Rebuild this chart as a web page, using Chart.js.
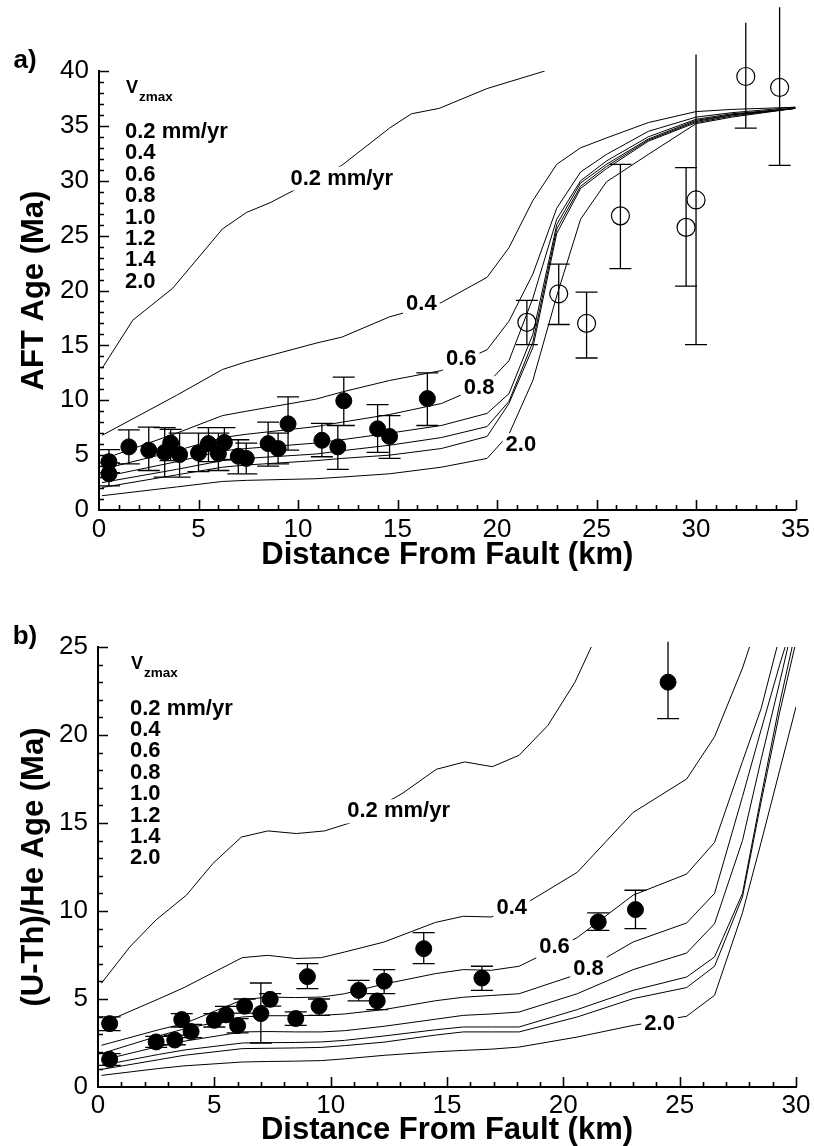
<!DOCTYPE html>
<html>
<head>
<meta charset="utf-8">
<script src="https://cdn.jsdelivr.net/npm/chart.js@4.4.0/dist/chart.umd.min.js"></script>
<style>
  html, body { margin: 0; padding: 0; background: #fff; }
  canvas { display: block; }
</style>
</head>
<body>
<canvas id="chartA" width="814" height="590"></canvas>
<canvas id="chartB" width="814" height="556"></canvas>
<script>
// ---------------------------------------------------------------
// DATA
// ---------------------------------------------------------------
const VELOCITIES = ['0.2', '0.4', '0.6', '0.8', '1.0', '1.2', '1.4', '2.0'];

// a) apatite fission-track ages vs distance
const aftDist02 = [0.15, 1.7, 3.7, 6.2, 7.4, 8.6, 12.2, 14.6, 15.7, 17.1, 19.5, 22.4];
const aftAge02  = [12.9, 17.3, 20.2, 25.6, 27.1, 28.0, 31.4, 34.8, 36.1, 36.6, 38.4, 40.0];

const aftDist  = [0.15, 3.9, 6.2, 7.4, 10.9, 12.2, 14.6, 17.2, 19.5, 20.6, 21.8, 23, 24.2, 25.5, 27.6, 30, 31.8, 35];
const aftAge04 = [6.8, 10.45, 12.8, 13.5, 15.2, 15.75, 17.6, 18.9, 21.2, 23.9, 28.2, 31.5, 33.0, 33.9, 35.3, 36.3, 36.5, 36.7];
const aftAge06 = [4.6, 7.0, 8.6, 9.0, 10.1, 10.75, 11.8, 12.7, 14.6, 17.2, 21.5, 27.5, 30.8, 32.4, 34.5, 35.8, 36.2, 36.7];
const aftAge08 = [3.7, 5.4, 6.6, 6.9, 7.6, 8.0, 8.7, 9.7, 11.5, 13.6, 19.3, 26.5, 30.0, 31.8, 34.0, 35.6, 36.1, 36.6];
const aftAge10 = [3.0, 4.4, 5.4, 5.6, 6.1, 6.4, 7.0, 7.7, 8.8, 10.6, 16.0, 26.0, 29.8, 31.5, 33.8, 35.5, 36.0, 36.6];
const aftAge12 = [2.5, 3.7, 4.5, 4.7, 5.1, 5.4, 5.9, 6.6, 7.6, 9.9, 15.3, 25.6, 29.5, 31.3, 33.7, 35.4, 36.0, 36.6];
const aftAge14 = [2.05, 3.2, 3.9, 4.1, 4.5, 4.7, 5.0, 5.6, 6.7, 9.7, 14.8, 25.2, 29.3, 31.1, 33.6, 35.3, 35.9, 36.6];
const aftAge20 = [1.3, 2.1, 2.6, 2.7, 2.85, 3.0, 3.3, 3.9, 4.7, 6.9, 11.8, 19.5, 26.5, 29.9, 32.4, 35.2, 35.8, 36.6];

// measured AFT ages (filled) with error limits
const aftObsDist = [0.5, 0.5, 1.5, 2.5, 3.3, 3.6, 4.05, 5.0, 5.5, 6.0, 6.3, 7.0, 7.4, 8.5, 9.0, 9.5, 11.2, 12.0, 12.3, 14.0, 14.6, 16.5];
const aftObsAge  = [4.4, 3.3, 5.75, 5.45, 5.25, 6.1, 5.05, 5.2, 6.05, 5.15, 6.15, 4.9, 4.7, 6.05, 5.6, 7.85, 6.35, 5.75, 9.95, 7.4, 6.7, 10.15];
const aftObsLow  = [3.4, 2.2, 4.2, 3.6, 3.0, 4.5, 3.0, 3.5, 4.4, 3.6, 4.6, 3.3, 3.3, 4.0, 4.2, 5.45, 4.85, 3.7, 7.7, 5.25, 4.7, 7.7];
const aftObsHigh = [5.5, 4.3, 7.3, 7.55, 7.5, 7.35, 7.0, 7.0, 7.5, 7.0, 7.5, 6.4, 6.1, 8.0, 7.0, 10.3, 7.9, 7.7, 12.1, 9.6, 8.6, 12.5];

// measured AFT ages (open)
const aftOpenDist = [21.5, 23.1, 24.5, 26.2, 29.5, 30.0, 32.5, 34.2];
const aftOpenAge  = [17.1, 19.7, 17.0, 26.8, 25.75, 28.25, 39.5, 38.5];
const aftOpenLow  = [15.06, 16.9, 13.85, 22.0, 20.4, 15.06, 34.8, 31.4];
const aftOpenHigh = [19.1, 22.4, 19.85, 31.5, 31.2, 41.5, 44.4, 45.8];

// b) (U-Th)/He ages vs distance
const heDist02 = [0.15, 1.36, 2.5, 3.8, 4.94, 6.16, 7.3, 8.53, 9.74, 10.96, 13.1, 14.54, 15.76, 16.95, 18.1, 19.34, 20.5, 21.2];
const heAge02  = [5.9, 7.95, 9.5, 10.9, 12.7, 14.2, 14.55, 14.4, 14.55, 15.06, 16.7, 18.05, 18.47, 18.2, 18.85, 20.55, 23.0, 25.0];

const heDist  = [0.15, 2.6, 3.7, 6.2, 7.3, 8.5, 9.6, 10.6, 12.3, 14.5, 15.7, 16.9, 18.1, 20.6, 23.0, 25.3, 26.5, 27.7, 28.5, 29.3, 30];
const heAge04 = [3.6, 5.0, 5.65, 7.35, 7.48, 7.3, 7.35, 7.67, 8.24, 9.35, 9.7, 9.66, 10.2, 12.2, 15.6, 17.5, 19.9, 23.8, 27.0, 30.0, 33.0];
const heAge06 = [2.37, 3.25, 3.6, 4.95, 5.11, 5.08, 5.11, 5.3, 5.85, 6.44, 6.67, 6.63, 6.86, 8.49, 10.9, 12.1, 13.9, 18.5, 21.5, 25.6, 29.0];
const heAge08 = [1.9, 2.9, 3.3, 3.98, 4.05, 4.05, 4.07, 4.15, 4.4, 4.9, 5.1, 5.2, 5.3, 6.4, 8.24, 9.32, 11.0, 16.5, 20.3, 24.0, 27.0];
const heAge10 = [1.52, 2.3, 2.6, 3.13, 3.15, 3.13, 3.13, 3.2, 3.45, 3.85, 4.07, 4.15, 4.26, 5.3, 6.67, 7.61, 9.28, 14.0, 18.6, 23.0, 27.0];
const heAge12 = [1.23, 1.85, 2.1, 2.5, 2.52, 2.53, 2.56, 2.65, 2.9, 3.25, 3.41, 3.41, 3.41, 4.4, 5.49, 6.25, 7.39, 11.0, 16.5, 21.8, 26.0];
const heAge14 = [1.0, 1.55, 1.8, 2.18, 2.2, 2.22, 2.25, 2.35, 2.55, 2.95, 3.13, 3.13, 3.13, 3.98, 5.02, 5.65, 6.86, 10.8, 16.2, 21.3, 25.3];
const heAge20 = [0.66, 1.05, 1.2, 1.42, 1.45, 1.47, 1.5, 1.6, 1.8, 2.0, 2.08, 2.15, 2.27, 2.84, 3.5, 4.02, 5.21, 9.9, 13.9, 18.0, 21.6];

const heObsDist = [0.5, 0.5, 2.5, 3.3, 3.6, 4.0, 5.0, 5.5, 6.0, 6.3, 7.0, 7.4, 8.5, 9.0, 9.5, 11.2, 12.0, 12.3, 14.0, 16.5, 21.5, 23.1, 24.5];
const heObsAge  = [3.6, 1.57, 2.56, 2.67, 3.83, 3.15, 3.79, 4.1, 3.49, 4.59, 4.17, 4.98, 3.89, 6.27, 4.59, 5.49, 4.89, 6.01, 7.86, 6.19, 9.38, 10.08, 23.0];
const heObsLow  = [3.2, 1.23, 2.25, 2.4, 3.41, 2.81, 3.41, 3.7, 3.07, 4.2, 2.5, 4.6, 3.5, 5.59, 4.07, 4.89, 4.4, 5.3, 7.01, 5.49, 8.9, 9.0, 20.93];
const heObsHigh = [3.98, 1.9, 2.88, 2.95, 4.17, 3.55, 4.17, 4.58, 3.89, 5.0, 5.91, 5.3, 4.27, 7.01, 5.0, 6.06, 5.3, 6.67, 8.77, 6.86, 9.89, 11.18, 25.3];

// ---------------------------------------------------------------
// STYLE
// ---------------------------------------------------------------
const FONT = "'Liberation Sans', Arial, Helvetica, sans-serif";
const CAP = 11;

function xy(xs, ys) {
    return xs.map((v, i) => ({ x: v, y: ys[i] }));
}

function curve(xs, ys) {
    return {
        data: xy(xs, ys),
        showLine: true,
        borderColor: '#000',
        borderWidth: 1,
        pointRadius: 0,
        pointHoverRadius: 0,
        tension: 0
    };
}

function dots(xs, ys, filled) {
    return {
        data: xy(xs, ys),
        showLine: false,
        pointRadius: filled ? 8 : 9,
        pointBackgroundColor: filled ? '#000' : 'rgba(0,0,0,0)',
        pointBorderColor: '#000',
        pointBorderWidth: filled ? 1 : 1.2,
        clip: false
    };
}

// error bars, inward ticks, curve labels and the V_zmax key
function makeOverlay(cfg) {
    return {
        id: 'overlay',
        beforeDatasetsDraw(chart) {
            const { ctx, scales: { x, y } } = chart;
            ctx.save();
            ctx.strokeStyle = '#000';
            ctx.lineWidth = 1.3;
            ctx.beginPath();
            cfg.errors.forEach(e => {
                e.x.forEach((xv, i) => {
                    const px = x.getPixelForValue(xv);
                    const top = y.getPixelForValue(e.hi[i]);
                    const bot = y.getPixelForValue(e.lo[i]);
                    ctx.moveTo(px, top);
                    ctx.lineTo(px, bot);
                    if (e.hi[i] <= y.max) {
                        ctx.moveTo(px - CAP, top);
                        ctx.lineTo(px + CAP, top);
                    }
                    ctx.moveTo(px - CAP, bot);
                    ctx.lineTo(px + CAP, bot);
                });
            });
            ctx.stroke();
            ctx.restore();
        },
        afterDatasetsDraw(chart) {
            const { ctx, chartArea: a, scales: { x, y } } = chart;
            ctx.save();

            // curve labels sit in a white gap of the line
            ctx.font = `bold 22px ${FONT}`;
            ctx.textAlign = 'center';
            ctx.textBaseline = 'middle';
            cfg.labels.forEach(l => {
                const px = x.getPixelForValue(l.x);
                const py = y.getPixelForValue(l.y);
                const w = ctx.measureText(l.text).width;
                ctx.fillStyle = '#fff';
                ctx.fillRect(px - w / 2 - 3, py - 12, w + 6, 24);
                ctx.fillStyle = '#000';
                ctx.fillText(l.text, px, py);
            });

            // inward major/minor ticks
            ctx.strokeStyle = '#000';
            ctx.lineWidth = 1.6;
            ctx.beginPath();
            for (let v = 1; v <= x.max; v++) {
                const px = Math.round(x.getPixelForValue(v)) + 0.5;
                const len = v % 5 === 0 ? 10 : 5;
                ctx.moveTo(px, a.bottom);
                ctx.lineTo(px, a.bottom - len);
            }
            for (let v = 1; v <= y.max; v++) {
                const py = Math.round(y.getPixelForValue(v)) + 0.5;
                const len = v % 5 === 0 ? 10 : 5;
                ctx.moveTo(a.left, py);
                ctx.lineTo(a.left + len, py);
            }
            ctx.stroke();

            // V_zmax key
            ctx.fillStyle = '#000';
            ctx.textAlign = 'left';
            ctx.font = `bold 18px ${FONT}`;
            ctx.fillText('V', a.left + cfg.keyDx + 1, a.top + 17);
            ctx.font = `bold 13.5px ${FONT}`;
            ctx.fillText('zmax', a.left + cfg.keyDx + 14, a.top + 26.5);
            ctx.font = `bold 22px ${FONT}`;
            VELOCITIES.forEach((v, i) => {
                ctx.fillText(i === 0 ? v + ' mm/yr' : v, a.left + cfg.keyDx, a.top + cfg.keyDy + i * 21.4);
            });

            // panel tag
            ctx.textAlign = 'center';
            ctx.font = `bold 26px ${FONT}`;
            ctx.fillText(cfg.tag, 25, cfg.tagY);
            ctx.restore();
        }
    };
}

function scalesFor(o) {
    const tickFont = { family: FONT, size: 26 };
    const titleFont = { family: FONT, size: 31, weight: 'bold', lineHeight: 1 };
    const border = { display: true, color: '#000', width: 2 };
    return {
        x: {
            type: 'linear', min: 0, max: o.xMax,
            afterFit: s => { s.height = o.xHeight; },
            grid: { display: false, drawTicks: false },
            border: border,
            ticks: { stepSize: 5, color: '#000', font: tickFont, padding: o.xPad, maxRotation: 0, autoSkip: false },
            title: { display: true, text: 'Distance From Fault (km)', color: '#000', font: titleFont,
                     padding: { top: 0, bottom: o.xTitlePad } }
        },
        y: {
            type: 'linear', min: 0, max: o.yMax,
            afterFit: s => { s.width = o.yWidth; },
            grid: { display: false, drawTicks: false },
            border: border,
            ticks: { stepSize: 5, color: '#000', font: tickFont, padding: 10, autoSkip: false },
            title: { display: true, text: o.yTitle, color: '#000', font: titleFont,
                     padding: { top: 18.5, bottom: 0 } }
        }
    };
}

function baseOptions(o) {
    return {
        responsive: false,
        animation: false,
        events: [],
        layout: { autoPadding: false, padding: o.padding },
        plugins: { legend: { display: false }, tooltip: { enabled: false } },
        scales: scalesFor(o)
    };
}

// ---------------------------------------------------------------
// CHART A
// ---------------------------------------------------------------
new Chart(document.getElementById('chartA'), {
    type: 'scatter',
    data: {
        datasets: [
            curve(aftDist02, aftAge02),
            curve(aftDist, aftAge04),
            curve(aftDist, aftAge06),
            curve(aftDist, aftAge08),
            curve(aftDist, aftAge10),
            curve(aftDist, aftAge12),
            curve(aftDist, aftAge14),
            curve(aftDist, aftAge20),
            dots(aftOpenDist, aftOpenAge, false),
            dots(aftObsDist, aftObsAge, true)
        ]
    },
    options: baseOptions({
        xMax: 35, yMax: 40, xHeight: 80, yWidth: 99, xPad: 4, xTitlePad: 19,
        yTitle: 'AFT Age (Ma)',
        padding: { top: 71, right: 17, bottom: 0, left: 0 }
    }),
    plugins: [makeOverlay({
        tag: 'a)', tagY: 61, keyDx: 26, keyDy: 61,
        errors: [
            { x: aftObsDist, lo: aftObsLow, hi: aftObsHigh },
            { x: aftOpenDist, lo: aftOpenLow, hi: aftOpenHigh }
        ],
        labels: [
            { text: '0.2 mm/yr', x: 12.2, y: 30.2 },
            { text: '0.4', x: 16.2, y: 18.8 },
            { text: '0.6', x: 18.2, y: 13.8 },
            { text: '0.8', x: 19.1, y: 11.1 },
            { text: '2.0', x: 21.2, y: 5.9 }
        ]
    })]
});

// ---------------------------------------------------------------
// CHART B
// ---------------------------------------------------------------
new Chart(document.getElementById('chartB'), {
    type: 'scatter',
    data: {
        datasets: [
            curve(heDist02, heAge02),
            curve(heDist, heAge04),
            curve(heDist, heAge06),
            curve(heDist, heAge08),
            curve(heDist, heAge10),
            curve(heDist, heAge12),
            curve(heDist, heAge14),
            curve(heDist, heAge20),
            dots(heObsDist, heObsAge, true)
        ]
    },
    options: baseOptions({
        xMax: 30, yMax: 25, xHeight: 59, yWidth: 98, xPad: 3, xTitlePad: 0.5,
        yTitle: '(U-Th)/He Age (Ma)',
        padding: { top: 57, right: 18, bottom: 0, left: 0 }
    }),
    plugins: [makeOverlay({
        tag: 'b)', tagY: 46.5, keyDx: 32, keyDy: 61.6,
        errors: [
            { x: heObsDist, lo: heObsLow, hi: heObsHigh }
        ],
        labels: [
            { text: '0.2 mm/yr', x: 12.92, y: 15.66 },
            { text: '0.4', x: 17.78, y: 10.2 },
            { text: '0.6', x: 19.62, y: 7.97 },
            { text: '0.8', x: 21.08, y: 6.72 },
            { text: '2.0', x: 24.14, y: 3.59 }
        ]
    })]
});
</script>
</body>
</html>
